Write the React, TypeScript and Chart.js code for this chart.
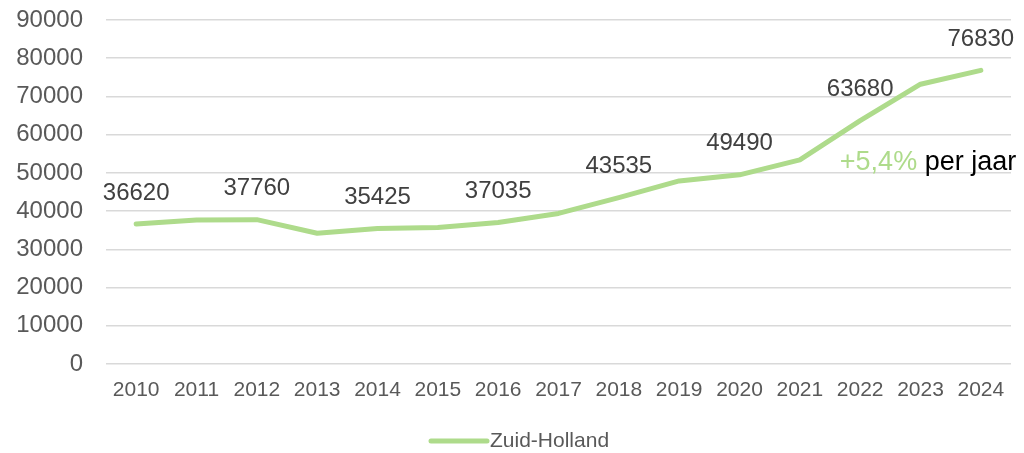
import React, { useEffect, useRef } from 'react';
import { Chart, registerables } from 'chart.js';

Chart.register(...registerables);

const years = ['2010', '2011', '2012', '2013', '2014', '2015', '2016', '2017', '2018', '2019', '2020', '2021', '2022', '2023', '2024'];
const values = [36620, 37700, 37760, 34200, 35425, 35700, 37035, 39400, 43535, 47900, 49490, 53400, 63680, 73200, 76830];
const labeledYears = ['2010', '2012', '2014', '2016', '2018', '2020', '2022', '2024'];
const yTickValues = [0, 10000, 20000, 30000, 40000, 50000, 60000, 70000, 80000, 90000];
const seriesName = 'Zuid-Holland';
const growthText = '+5,4%';
const growthSuffix = ' per jaar';
const growthAnchorYear = '2021';
const growthAnchorValue = 52600;

const FONT = "'Liberation Sans', Arial, sans-serif";
const GREEN = '#AEDB8B';
const TICK_COLOR = '#595959';
const LABEL_COLOR = '#404040';

const extrasPlugin = {
  id: 'extras',
  afterDatasetsDraw(chart: any) {
    const ctx = chart.ctx;
    const meta = chart.getDatasetMeta(0);
    ctx.save();
    // data labels
    ctx.font = `24px ${FONT}`;
    ctx.fillStyle = LABEL_COLOR;
    ctx.textAlign = 'center';
    ctx.textBaseline = 'middle';
    years.forEach((yr, i) => {
      if (!labeledYears.includes(yr)) return;
      const pt = meta.data[i];
      ctx.fillText(String(values[i]), pt.x, pt.y - 31);
    });
    // growth annotation
    const xs = chart.scales.x;
    const ys = chart.scales.y;
    const ax = xs.getPixelForValue(years.indexOf(growthAnchorYear)) + 40;
    const ay = ys.getPixelForValue(growthAnchorValue);
    ctx.font = `27px ${FONT}`;
    ctx.textAlign = 'left';
    ctx.fillStyle = GREEN;
    ctx.fillText(growthText, ax, ay);
    const w = ctx.measureText(growthText).width;
    ctx.fillStyle = '#000000';
    ctx.fillText(growthSuffix, ax + w, ay);
    // legend
    const ly = chart.height - 12;
    const lx = 431;
    ctx.strokeStyle = GREEN;
    ctx.lineWidth = 5;
    ctx.lineCap = 'round';
    ctx.beginPath();
    ctx.moveTo(lx, ly);
    ctx.lineTo(lx + 56, ly);
    ctx.stroke();
    ctx.font = `21px ${FONT}`;
    ctx.fillStyle = TICK_COLOR;
    ctx.textBaseline = 'middle';
    ctx.fillText(seriesName, lx + 59, ly);
    ctx.restore();
  },
};

export default function App() {
  const ref = useRef<HTMLCanvasElement | null>(null);
  useEffect(() => {
    if (!ref.current) return;
    const chart = new Chart(ref.current, {
      type: 'line',
      data: {
        labels: years,
        datasets: [
          {
            label: seriesName,
            data: values,
            borderColor: GREEN,
            backgroundColor: GREEN,
            borderWidth: 5,
            pointRadius: 0,
            tension: 0,
            borderCapStyle: 'round',
            borderJoinStyle: 'round',
          },
        ],
      },
      options: {
        animation: false,
        responsive: true,
        maintainAspectRatio: false,
        layout: { padding: { left: 0, right: 13, top: 20, bottom: 39 } },
        plugins: {
          legend: { display: false },
          tooltip: { enabled: false },
        },
        scales: {
          x: {
            offset: true,
            grid: { display: false, drawTicks: false },
            border: { display: false },
            ticks: {
              color: TICK_COLOR,
              font: { family: FONT, size: 21 },
              padding: 14,
              maxRotation: 0,
              autoSkip: false,
            },
            afterFit(scale: any) {
              scale.height = 50;
              scale.paddingLeft = 0;
              scale.paddingRight = 0;
            },
          },
          y: {
            min: 0,
            max: 90000,
            afterBuildTicks(scale: any) {
              scale.ticks = yTickValues.map((v) => ({ value: v }));
            },
            grid: { color: '#D9D9D9', lineWidth: 1.5, drawTicks: false },
            border: { display: false },
            ticks: {
              color: TICK_COLOR,
              font: { family: FONT, size: 24 },
              padding: 23,
              callback: (v: any) => String(v),
            },
            afterFit(scale: any) {
              scale.width = 106;
              scale.paddingTop = 0;
              scale.paddingBottom = 0;
            },
          },
        },
      },
      plugins: [extrasPlugin],
    });
    return () => chart.destroy();
  }, []);
  return (
    <div style={{ position: 'fixed', left: 0, top: 0, width: 1024, height: 453, background: '#fff' }}>
      <canvas ref={ref} />
    </div>
  );
}
